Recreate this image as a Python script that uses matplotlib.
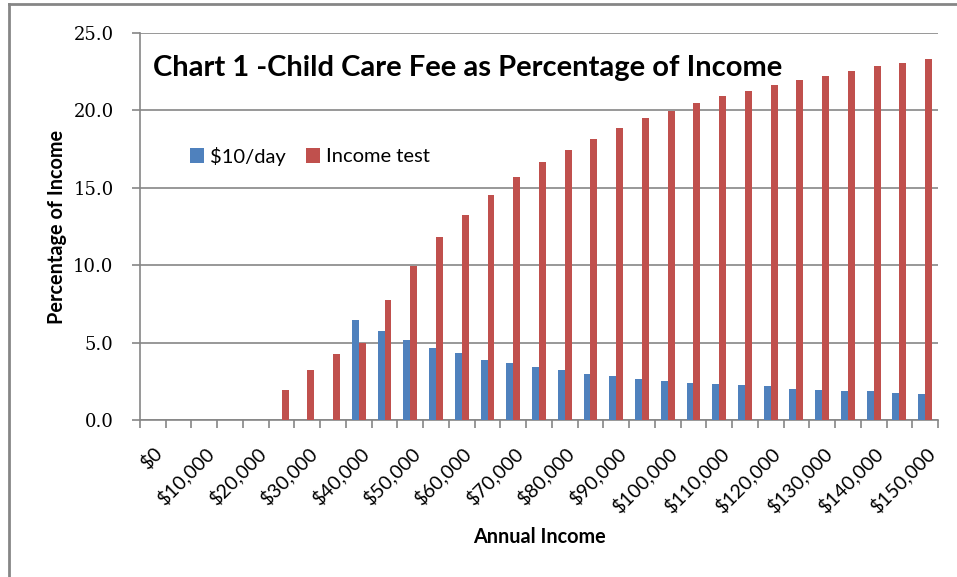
import matplotlib
matplotlib.use("Agg")
import matplotlib.pyplot as plt
import numpy as np
from matplotlib.lines import Line2D

incomes = list(range(0, 150001, 5000))
categories = [f"${v:,}" for v in incomes]
ten_dollar_day = [0, 0, 0, 0, 0, 0, 0, 0,
                  6.48, 5.72, 5.17, 4.65, 4.33, 3.90, 3.66, 3.42, 3.25, 2.99,
                  2.84, 2.67, 2.52, 2.41, 2.32, 2.26, 2.17, 2.02, 1.94, 1.86,
                  1.85, 1.76, 1.68]
income_test = [0, 0, 0, 0, 0, 1.94, 3.25, 4.24,
               4.95, 7.73, 9.92, 11.80, 13.26, 14.53, 15.67, 16.67, 17.42, 18.17,
               18.84, 19.51, 19.98, 20.48, 20.90, 21.23, 21.64, 21.98, 22.22, 22.56,
               22.89, 23.08, 23.29]
series_names = ["$10/day", "Income test"]
title = "Chart 1 -Child Care Fee as Percentage of Income"

W, H = 957, 577
fig = plt.figure(figsize=(W / 100, H / 100), dpi=100)
fig.patch.set_facecolor("white")

L, R, T, B = 140, 938, 33, 420
ax = fig.add_axes([L / W, 1 - B / H, (R - L) / W, (B - T) / H])

sans = ["Lato", "DejaVu Sans"]
serif = ["DejaVu Serif"]
grey = "#868686"
blue = "#4F81BD"
red = "#C0504D"

x = np.arange(len(categories))
bw = 0.27
ax.bar(x - bw / 2, ten_dollar_day, width=bw, color=blue, label=series_names[0], zorder=3)
ax.bar(x + bw / 2, income_test, width=bw, color=red, label=series_names[1], zorder=3)

ax.set_xlim(-0.5, len(categories) - 0.5)
ax.set_ylim(0, 25)
ax.set_yticks(np.arange(0, 25.1, 5))
ax.set_yticklabels([f"{v:.1f}" for v in np.arange(0, 25.1, 5)], fontfamily=serif, fontsize=13)
ax.yaxis.grid(True, color=grey, linewidth=1.2, zorder=0)
ax.set_axisbelow(True)

ax.set_xticks(x[::2])
ax.set_xticklabels(categories[::2], rotation=45, ha="right", rotation_mode="anchor",
                   fontfamily=sans, fontsize=14)
ax.set_xticks(np.arange(-0.5, len(categories)), minor=True)
ax.tick_params(axis="x", which="major", length=0, pad=17)
ax.tick_params(axis="x", which="minor", length=6, color=grey, width=1.2, direction="out")
ax.tick_params(axis="y", length=6, color=grey, width=1.2, direction="out", pad=13)

for s in ["top", "right"]:
    ax.spines[s].set_visible(False)
for s in ["left", "bottom"]:
    ax.spines[s].set_color(grey)
    ax.spines[s].set_linewidth(1.2)

ax.set_xlabel("Annual Income", fontfamily=sans, fontsize=14.3, fontweight="bold")
ax.xaxis.set_label_coords(0.5, -0.302)
ax.xaxis.label.set_va("center")
ax.set_ylabel("Percentage of Income", fontfamily=sans, fontsize=14.3, fontweight="bold")
ax.yaxis.set_label_coords((57 - L) / (R - L), (B - 227) / (B - T))
ax.yaxis.label.set_va("center")

ax.text((153 - L) / (R - L), (B - 68) / (B - T), title, transform=ax.transAxes,
        fontfamily=sans, fontsize=21, fontweight="bold", ha="left", va="center", zorder=5)

leg = ax.legend(loc="center left", bbox_to_anchor=((190 - L) / (R - L), (B - 156) / (B - T)),
                ncol=2, frameon=False, handlelength=0.7, handleheight=0.7,
                handletextpad=0.3, columnspacing=1.0, borderaxespad=0, borderpad=0,
                prop={"family": sans, "size": 14.5})

fig.add_artist(Line2D([9 / W, 1], [1 - 4 / H, 1 - 4 / H], color=grey, linewidth=2,
                      transform=fig.transFigure))
fig.add_artist(Line2D([9 / W, 9 / W], [0, 1 - 4 / H], color=grey, linewidth=2,
                      transform=fig.transFigure))

fig.savefig("out.png", dpi=100)
